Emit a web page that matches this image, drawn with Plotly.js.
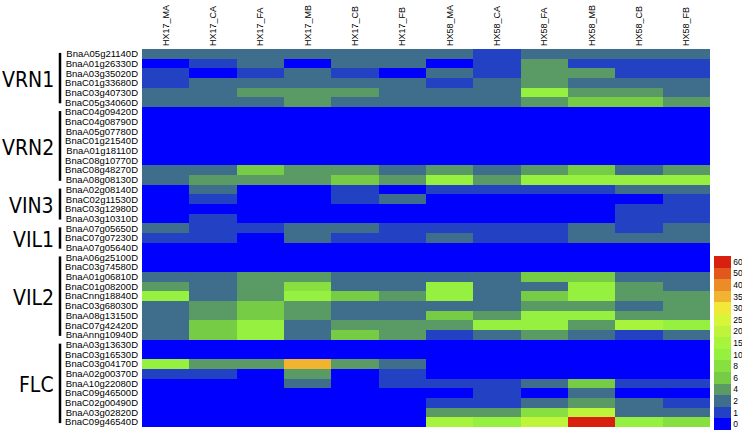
<!DOCTYPE html>
<html>
<head>
<meta charset="utf-8">
<script src="https://cdn.plot.ly/plotly-3.0.1.min.js"></script>
<style>
  html, body { margin: 0; padding: 0; background: #ffffff; }
  #chart { width: 742px; height: 433px; }
</style>
</head>
<body>
<div id="chart"></div>
<script>
// ---- Data ----
const columns = ['HX17_MA','HX17_CA','HX17_FA','HX17_MB','HX17_CB','HX17_FB',
                 'HX58_MA','HX58_CA','HX58_FA','HX58_MB','HX58_CB','HX58_FB'];

const genes = [
  'BnaA05g21140D','BnaA01g26330D','BnaA03g35020D','BnaC01g33680D','BnaC03g40730D','BnaC05g34060D',
  'BnaC04g09420D','BnaC04g08790D','BnaA05g07780D','BnaC01g21540D','BnaA01g18110D','BnaC08g10770D','BnaC08g48270D','BnaA08g08130D',
  'BnaA02g08140D','BnaC02g11530D','BnaC03g12980D','BnaA03g10310D',
  'BnaA07g05650D','BnaC07g07230D','BnaA07g05640D',
  'BnaA06g25100D','BnaC03g74580D','BnaA01g06810D','BnaC01g08200D','BnaCnng18840D','BnaC03g68030D','BnaA08g13150D','BnaC07g42420D','BnaAnng10940D',
  'BnaA03g13630D','BnaC03g16530D','BnaC03g04170D','BnaA02g00370D','BnaA10g22080D','BnaC09g46500D','BnaC02g00490D','BnaA03g02820D','BnaC09g46540D'
];

const groupNames = ['VRN1','VRN2','VIN3','VIL1','VIL2','FLC'];
const groupSizes = [6, 8, 4, 3, 9, 9];

// colour-scale levels (legend labels)
const levels = [0, 1, 2, 4, 6, 8, 10, 15, 20, 25, 30, 35, 40, 50, 60];
const levelColors = ['#0000FF','#2341C3','#3E6E8C','#5A9A64','#76CC44','#88E040','#96F040',
                     '#A8F43C','#BEF53A','#D8F53A','#F2E83A','#F0B430','#EA8C28','#E2581C','#D82010'];

// expression values (rows = genes, cols = columns)
const values = [
  [2,2,2,2,2,2, 2,1,2,2,2,2],
  [0,1,2,0,2,2, 0,1,4,1,1,1],
  [1,0,1,2,1,0, 2,1,4,4,1,1],
  [1,2,2,2,2,2, 1,2,4,2,2,2],
  [2,2,4,4,4,2, 2,2,10,4,4,2],
  [2,2,2,4,2,2, 2,2,4,6,6,4],
  [0,0,0,0,0,0, 0,0,0,0,0,0],
  [0,0,0,0,0,0, 0,0,0,0,0,0],
  [0,0,0,0,0,0, 0,0,0,0,0,0],
  [0,0,0,0,0,0, 0,0,0,0,0,0],
  [0,0,0,0,0,0, 0,0,0,0,0,0],
  [0,0,0,0,0,0, 0,0,0,0,0,0],
  [2,2,6,4,4,2, 4,2,4,6,2,4],
  [2,4,4,4,6,4, 10,4,10,10,10,10],
  [0,2,0,0,1,0, 1,1,1,1,2,2],
  [0,1,0,0,1,2, 0,0,0,0,0,1],
  [0,0,0,0,0,0, 0,0,0,0,1,1],
  [0,1,0,0,0,0, 0,0,0,0,1,1],
  [2,1,1,2,2,1, 1,1,1,2,1,2],
  [1,1,0,2,1,1, 2,1,1,2,2,2],
  [0,0,0,0,0,0, 0,0,0,0,0,0],
  [0,0,0,0,0,0, 0,0,0,0,0,0],
  [0,0,0,0,0,0, 0,0,0,0,0,0],
  [2,2,4,4,2,2, 2,2,6,6,2,2],
  [4,2,4,8,2,2, 10,2,2,10,4,2],
  [10,2,4,10,6,4, 10,2,6,10,4,4],
  [2,4,6,4,2,2, 2,2,4,4,2,4],
  [2,4,6,4,2,2, 6,4,10,10,4,4],
  [2,6,10,2,4,4, 4,10,10,4,15,10],
  [2,6,10,2,6,4, 1,2,4,2,1,2],
  [0,0,0,0,0,0, 0,0,0,0,0,0],
  [0,0,0,0,0,0, 0,0,0,0,0,0],
  [10,4,4,35,4,2, 0,0,0,0,0,0],
  [1,1,0,4,0,1, 0,0,0,0,0,0],
  [0,0,0,2,0,1, 1,1,2,6,1,1],
  [0,0,0,0,0,0, 0,1,0,2,0,0],
  [0,0,0,0,0,0, 1,1,2,4,2,1],
  [0,0,0,0,0,0, 4,4,8,20,2,2],
  [0,0,0,0,0,0, 15,10,20,60,10,8]
];

// ---- Build ----
function levelIndex(v) {
  let idx = 0;
  for (let i = 0; i < levels.length; i++) if (v >= levels[i]) idx = i;
  return idx;
}
const zIdx = values.map(r => r.map(levelIndex));

const n = levels.length;
const colorscale = [];
levelColors.forEach((c, i) => {
  colorscale.push([i / n, c]);
  colorscale.push([(i + 1) / n, c]);
});

const W = 742, H = 433;
const mL = 142, mR = 32, mT = 49, mB = 6;
const plotW = W - mL - mR, plotH = H - mT - mB;
const px2x = p => (p - mL) / plotW;
const px2y = p => (H - mB - p) / plotH;

const trace = {
  type: 'heatmap',
  x: columns,
  y: genes,
  z: zIdx,
  customdata: values,
  hovertemplate: '%{y}<br>%{x}: %{customdata}<extra></extra>',
  colorscale: colorscale,
  zmin: -0.5,
  zmax: n - 0.5,
  xgap: 0, ygap: 0,
  colorbar: {
    x: px2x(714), xanchor: 'left', xpad: 0,
    y: px2y(430), yanchor: 'bottom', ypad: 0,
    thickness: 17, thicknessmode: 'pixels',
    len: 174, lenmode: 'pixels',
    tickmode: 'array',
    tickvals: levels.map((_, i) => i),
    ticktext: levels.map(String),
    ticks: '', ticklen: 0,
    outlinewidth: 0,
    tickfont: { family: 'Liberation Sans, Arial, sans-serif', size: 8.5, color: '#000' }
  }
};

const shapes = [];
const annotations = [];
let start = 0;
groupNames.forEach((g, i) => {
  const cnt = groupSizes[i];
  shapes.push({
    type: 'line', xref: 'paper', yref: 'y',
    x0: px2x(60), x1: px2x(60),
    y0: start - 0.5 + 0.4, y1: start + cnt - 0.5 - 0.4,
    line: { color: '#000', width: 2.5 }
  });
  annotations.push({
    xref: 'paper', yref: 'y',
    x: px2x(56), xanchor: 'right',
    y: start + (cnt - 1) / 2, yanchor: 'middle', yshift: -2,
    text: g, showarrow: false,
    font: { family: 'DejaVu Sans Condensed, Liberation Sans, sans-serif', size: 21, color: '#000' }
  });
  start += cnt;
});

const layout = {
  width: W, height: H,
  margin: { l: mL, r: mR, t: mT, b: mB, autoexpand: false },
  paper_bgcolor: '#ffffff',
  plot_bgcolor: '#ffffff',
  font: { family: 'Liberation Sans, Arial, sans-serif', color: '#000' },
  xaxis: {
    side: 'top', type: 'category',
    tickmode: 'array', tickvals: columns, ticktext: columns,
    tickangle: -90, ticks: '', showgrid: false, zeroline: false, showline: false,
    tickfont: { size: 9, color: '#000' },
    ticklabelstandoff: 2,
    automargin: false
  },
  yaxis: {
    type: 'category', autorange: 'reversed',
    tickmode: 'array', tickvals: genes, ticktext: genes,
    ticks: '', showgrid: false, zeroline: false, showline: false,
    tickfont: { size: 9.5, color: '#000' },
    ticklabelstandoff: 3,
    automargin: false
  },
  shapes: shapes,
  annotations: annotations,
  showlegend: false
};

Plotly.newPlot('chart', [trace], layout, { displayModeBar: false, staticPlot: true });
</script>
</body>
</html>
